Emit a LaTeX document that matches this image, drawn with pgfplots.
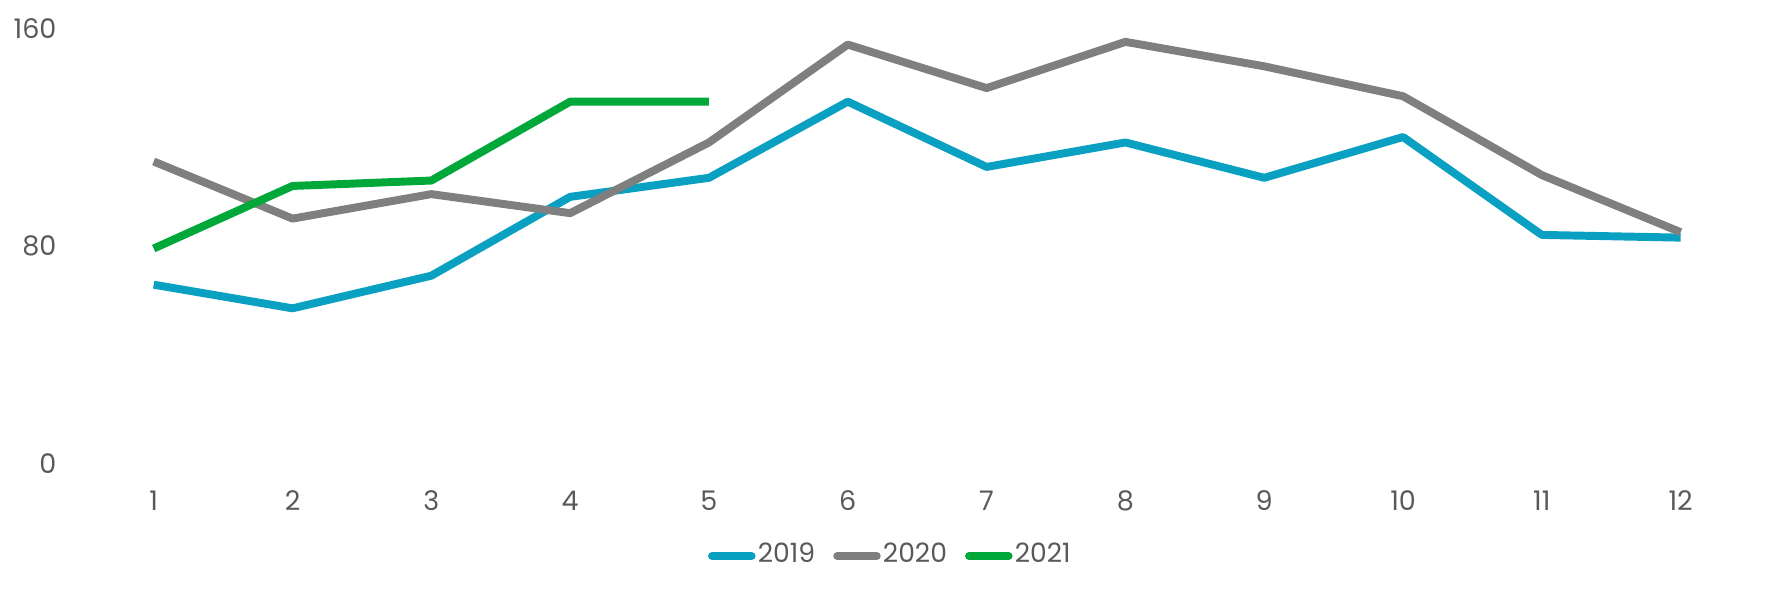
\documentclass[border=0pt]{standalone}
\usepackage{fontspec}
\setmainfont{Poppins}
\usepackage{pgfplots}
\pgfplotsset{compat=1.18}
\usetikzlibrary{calc}
\definecolor{teal19}{HTML}{0AA0C1}
\definecolor{gray20}{HTML}{7F7F7F}
\definecolor{green21}{HTML}{00A83A}
\definecolor{txt}{HTML}{595959}

\begin{document}
\begin{tikzpicture}
\begin{axis}[
  name=ax,
  scale only axis,
  width=147.4mm, height=38.5mm,
  xmin=0.5, xmax=12.5,
  ymin=0, ymax=160,
  xtick={1,...,12},
  ytick={0,80,160},
  axis line style={draw=none},
  major tick length=0pt,
  tick label style={font=\fontsize{6.8}{8}\selectfont, text=txt, inner sep=0pt},
  xticklabel style={anchor=center, yshift=-3.3mm},
  yticklabel style={anchor=east, xshift=-2.4mm},
  /pgf/number format/assume math mode=true,
  legend style={draw=none, fill=none, at={(axis description cs:0.374,-0.213)}, anchor=west,
    font=\fontsize{6.7}{8}\selectfont, text=txt, inner sep=0pt,
    nodes={inner xsep=0.2mm, inner ysep=0pt},
    /tikz/every odd column/.append style={column sep=0mm},
    /tikz/every even column/.append style={column sep=1.4mm}},
  legend columns=3,
  legend cell align=left,
  legend image code/.code={\draw[#1, line cap=round] (0mm,0mm) -- (3.5mm,0mm);},
  every axis plot/.append style={line width=2pt, line join=round},
  clip=false,
]
\addplot[teal19] coordinates {
  (1,65.7) (2,57) (3,69) (4,98) (5,105) (6,133) (7,109) (8,118) (9,105) (10,120) (11,84) (12,83)
};
\addlegendentry{2019}
\addplot[gray20] coordinates {
  (1,111) (2,90) (3,99) (4,92) (5,118) (6,154) (7,138) (8,155) (9,146) (10,135) (11,106) (12,85)
};
\addlegendentry{2020}
\addplot[green21] coordinates {
  (1,79) (2,102) (3,104) (4,133) (5,133)
};
\addlegendentry{2021}
\end{axis}
\path ($(ax.south west)+(-7.46mm,-11.3mm)$) rectangle ($(ax.north east)+(1.94mm,2.5mm)$);
\end{tikzpicture}
\end{document}
